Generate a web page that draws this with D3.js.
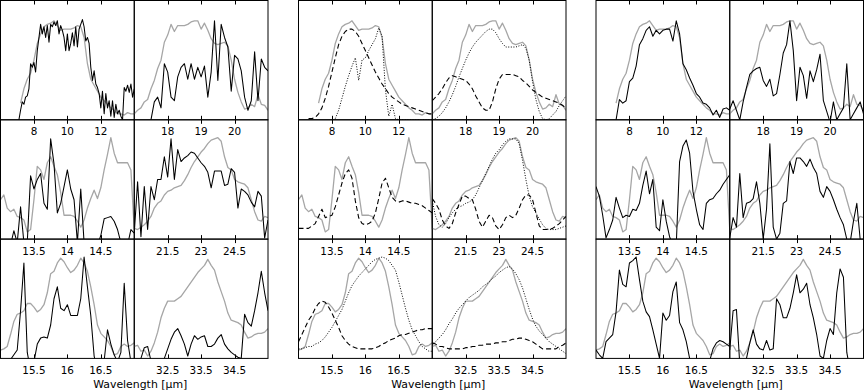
<!DOCTYPE html>
<html>
<head>
<meta charset="utf-8">
<script src="https://cdn.jsdelivr.net/npm/d3@7"></script>
<style>
  html, body { margin: 0; padding: 0; background: #fff; }
  svg { display: block; }
  text { font-family: "DejaVu Sans", sans-serif; font-size: 10.4px; fill: #000; }
  text.title { font-size: 10.9px; }
</style>
</head>
<body>
<svg id="chart" width="865" height="391"></svg>
<script>
;(function (window, document, d3) {

    'use strict';

    // panel order in each block: row1 left, row1 right, row2 left, row2 right, row3 left, row3 right
    var xDomains = [[6, 14], [17, 21], [13, 15], [20, 26], [15, 17], [31.5, 35.5]];
    var tickValues = [[8, 10, 12], [18, 19, 20], [13.5, 14, 14.5], [21.5, 23, 24.5], [15.5, 16, 16.5], [32.5, 33.5, 34.5]];
    var tickLabels = [['8', '10', '12'], ['18', '19', '20'], ['13.5', '14', '14.5'], ['21.5', '23', '24.5'], ['15.5', '16', '16.5'], ['32.5', '33.5', '34.5']];
    var axisTitle = 'Wavelength [\u03bcm]';

    // observed spectrum (grey), same in the three blocks; samples evenly spread over each panel
    var obs_r1a = [null, null, null, null, null, null, 14, 26, 34, 39, 50, 64, 72, 78, 80, 81, 83, 79, 75, 76, 76, 76, 77, 79, 78, 69, 47, 34, 29, 24, 19, 16, 13, 10, 8, 5, 5, 4, 6, 5, 5];
    var obs_r1b = [5, 8, 10, 15, 17, 26, 33, 43, 50, 65, 71, 80, 74, 79, 79, 79, 80, 82, 83, 83, 76, 81, 75, 68, 64, 63, 64, 65, 62, 50, 34, 23, 15, 9, 10, 13, 11, 21, 13, 12, 8];
    var obs_r2a = [33, 37, 26, 23, 25, 19, 18, 16, 6, 8, 33, 61, 58, 50, 64, 69, 61, 54, 39, 20, 20, 20, 19, 15, 10, 16, 26, 34, 41, 34, 43, 58, 71, 85, 72, 64, 64, 64, 64, 58, 8];
    var obs_r2b = [9, 8, 10, 12, 15, 19, 26, 30, 32, 37, 40, 41, 43, 44, 45, 49, 54, 60, 65, 69, 73, 76, 80, 83, 84, 85, 82, 69, 60, 58, 50, 48, 47, 46, 43, 33, 23, 16, 15, 19, 18];
    var obs_r3a = [7, 8, 10, 20, 31, 37, 38, 40, 46, 46, 43, 39, 41, 45, 55, 71, 73, 80, 84, 81, 76, 72, 74, 78, 84, 80, 73, 60, 45, 28, 21, 18, 15, 10, 3, 4, 10, 12, 10, 11, 13];
    var obs_r3b = [10, 11, 6, 7, 2, 6, 13, 22, 34, 42, 48, 48, 48, 50, 52, 56, 60, 64, 68, 72, 75, 78, 83, 78, 74, 64, 56, 48, 38, 32, 31, 30, 28, 22, 17, 18, 20, 21, 21, 22, 25];

    // block A, solid black
    var modA_r1a = [null, null, null, null, null, null, null, null, null, null, null,
        0, 8, 15, 13, 19, 20, 26, 47, 44, 48, 40, 58, 69, 80, 72, 78, 69, 79, 65, 80,
        78, 82, 79, 83, 72, 79, 75, 69, 58, 72, 58, 64, 73, 62, 78, 61, 76, 80, 84, 78,
        66, 69, 64, 44, 33, 41, 30, 27, 22, 10, 24, 5, 22, 10, 16, 3, 16, 2, 13, 5,
        8, 3, 0, 27, 24, 29, 23, 30, 19, 26];
    var modA_r1b = [null, null, null, null, null, 0, 15, 19, 10, 47, 40, 19, 16, 36, 44, 47, 34, 47, 34, 44, 36, 45, 19, 40, 83, 33, 80, 69, 61, 24, 54, 51, 41, 19, 8, 16, 57, 16, 51, 44, 41];
    var modA_r2a = [null, null, null, -5, 7, -3, 27, -3, -3, 53, 42, 50, 55, 30, 25, 84, 63, 22, 30, 44, 58, 42, 33, -3, 42, -3, -10, -10, -10, -5, 3, 17, 18, 19, 15, 8, -3, -10, -5, 8, 5];
    var modA_r2b = [5, 48, 2, 44, 8, 44, 33, 50, 50, 69, 52, 84, 50, 75, 65, 68, 70, 73, 72, 68, 64, 61, 56, 43, 57, 57, 57, 45, 46, 59, 56, 26, 42, 40, 37, 31, 27, 40, 36, 1, 16];
    var modA_r3a = [0, -3, -3, -1, 3, 7, 40, 80, 5, -10, -3, 12, 17, 18, 17, 28, 50, 60, 42, 40, 45, 36, 36, 36, 50, 85, 60, 36, 2, -10, -10, -2, 24, 12, 3, -3, 5, 63, 15, -3, -5];
    var modA_r3b = [-5, -5, 0, 9, 10, -2, -10, -10, -5, 0, 8, 16, 22, 25, 19, 12, 2, 12, 19, 16, 18, 19, 10, 10, 12, 17, 20, 12, 8, 5, 3, 1, 0, 37, 30, 27, 40, 55, 73, 55, 40];

    // block B, dashed and dotted components
    var dashB_r1a = [null, null, null, 1, 1, 2, 5, 10, 18, 28, 40, 52, 63, 70, 74, 76, 76, 74, 70, 64, 58, 52, 46, 40, 35, 30, 26, 22, 19, 17, 15, 13, 12, 11, 10, 9, 8, 7, 6, 5, 5];
    var dotB_r1a = [null, null, null, null, null, null, null, null, null, null, null, 1, 8, 18, 28, 37, 45, 52, 33, 50, 52, 58, 63, 68, 77, 70, 25, 3, 13, 1, 0, 0, 0, 0, 0, 0, 0, 0, 0, 0, 0];
    var dashB_r1b = [16, 19, 22, 26, 31, 35, 37, 36, 35, 34, 33, 30, 26, 20, 15, 10, 8, 8, 15, 26, 34, 38, 38, 38, 38, 37, 36, 33, 31, 28, 25, 23, 21, 19, 18, 17, 16, 15, 14, 12, 10];
    var dotB_r1b = [0, 1, 3, 6, 10, 15, 21, 28, 36, 43, 50, 56, 61, 65, 68, 71, 74, 76, 76, 73, 68, 64, 61, 61, 61, 61, 62, 63, 60, 50, 32, 17, 7, 1, 0, 1, 4, 7, 12, 16, 20];
    var dashB_r2a = [9, 9, 9, 9, 11, 13, 19, 25, 18, 19, 20, 27, 37, 47, 55, 58, 51, 32, 18, 13, 12, 13, 15, 22, 34, 47, 51, 43, 35, 32, 31, 32, 32, 31, 30, 30, 29, 28, 26, 24, 22];
    var dashB_r2b = [34, 30, 25, 16, 11, 9, 13, 22, 29, 36, 36, 34, 33, 25, 15, 10, 15, 20, 18, 11, 8, 12, 18, 20, 18, 20, 26, 33, 37, 37, 33, 22, 11, 8, 8, 8, 9, 11, 13, 16, 19];
    var dotB_r2b = [32, 19, 12, 10, 13, 18, 22, 25, 27, 28, 30, 31, 33, 37, 43, 49, 55, 61, 67, 72, 75, 79, 82, 84, 84, 84, 80, 66, 50, 36, 27, 22, 17, 12, 9, 8, 8, 8, 9, 10, 11];
    var dashB_r3a = [14, 20, 26, 32, 36, 42, 46, 48, 47, 43, 38, 32, 26, 19, 15, 12, 10, 9, 8, 8, 8, 8, 8, 9, 10, 12, 13, 15, 16, 17, 19, 20, 20, 21, 22, 23, 24, 24, 25, 25, 25];
    var dotB_r3a = [8, 8, 9, 10, 10, 12, 13, 15, 18, 22, 26, 31, 36, 41, 48, 55, 61, 65, 69, 72, 75, 78, 81, 83, 84, 85, 84, 82, 78, 74, 64, 53, 42, 32, 24, 19, 14, 10, 8, 6, 6];
    var dashB_r3b = [13, 12, 10, 10, 9, 8, 8, 8, 8, 8, 9, 9, 10, 10, 11, 11, 12, 12, 12, 13, 13, 14, 14, 15, 16, 16, 17, 17, 16, 15, 14, 12, 10, 8, 8, 8, 8, 8, 10, 11, 13];
    var dotB_r3b = [11, 14, 17, 20, 24, 29, 33, 38, 42, 45, 48, 51, 53, 55, 57, 60, 62, 64, 67, 69, 72, 74, 76, 77, 75, 71, 66, 59, 50, 41, 33, 27, 23, 20, 17, 14, 12, 10, 8, 6, 4];

    // block C, solid black
    var modC_r1a = [null, null, null, null, null, null, 0, 17, 14, 16, 32, 35, 45, 63, 68, 75, 78, 70, 75, 72, 75, 76, 76, 66, 83, 72, 47, 42, 35, 29, 22, 19, 14, 13, 10, 4, 8, 2, 9, 10, 8];
    var modC_r1b = [9, 16, 8, 0, 15, 27, 38, 41, 43, 44, 33, 28, 34, 20, 22, 38, 56, 63, 83, 58, 16, 44, 37, 18, 41, 32, 42, 55, 16, 7, -2, 15, 0, 5, 10, 47, 0, 5, 10, 15, 5];
    var modC_r2a = [44, 36, 20, 1, 8, 16, 35, 26, 18, 20, 19, 25, 24, 30, 45, 57, 38, 50, 10, 7, 33, 15, 2, -5, -5, 65, 78, 83, 72, 40, 25, 12, 8, 30, 33, 34, 38, 41, 46, 50, 54];
    var modC_r2b = [1, 18, 10, 55, 18, 30, 31, 34, 48, 30, 0, 25, 80, 10, 0, 5, 30, 32, 65, 55, 68, 68, 65, 61, 67, 60, 55, 40, 35, 44, 40, 33, 25, 18, 12, 0, -3, 15, 30, 0, -3];
    var modC_r3a = [7, 3, 0, 14, 17, 20, 39, 74, 62, 60, 80, 82, 85, 66, 48, 39, 35, 24, 12, 0, 38, 32, 36, 56, 64, 30, 24, 14, 0, -5, -8, -10, -10, -8, -2, 8, 13, 15, 14, 12, 10];
    var modC_r3b = [7, 40, 41, -5, -5, 0, 13, 24, 12, 8, 7, 15, 7, 8, 50, 45, 34, 34, 42, 55, 70, 55, 58, 63, 45, 34, 20, 2, 0, 15, 25, 20, 55, 75, 68, 5, -10, -10, -10, -10, -10];

    var observed = [obs_r1a, obs_r1b, obs_r2a, obs_r2b, obs_r3a, obs_r3b];

    var blocks = [
        { left: 0.5, models: [
            [[modA_r1a, 'solid']], [[modA_r1b, 'solid']], [[modA_r2a, 'solid']],
            [[modA_r2b, 'solid']], [[modA_r3a, 'solid']], [[modA_r3b, 'solid']]] },
        { left: 298.5, models: [
            [[dashB_r1a, 'dash'], [dotB_r1a, 'dot']], [[dashB_r1b, 'dash'], [dotB_r1b, 'dot']],
            [[dashB_r2a, 'dash']], [[dashB_r2b, 'dash'], [dotB_r2b, 'dot']],
            [[dashB_r3a, 'dash'], [dotB_r3a, 'dot']], [[dashB_r3b, 'dash'], [dotB_r3b, 'dot']]] },
        { left: 596, models: [
            [[modC_r1a, 'solid']], [[modC_r1b, 'solid']], [[modC_r2a, 'solid']],
            [[modC_r2b, 'solid']], [[modC_r3a, 'solid']], [[modC_r3b, 'solid']]] }
    ];

    var panelW = 133.75,
        panelH = 119.3,
        top = 0.5,
        tickLen = 4;

    var styles = {
        obs:   { stroke: '#a6a6a6', width: 1.3, dash: null },
        solid: { stroke: '#000', width: 1.05, dash: null },
        dash:  { stroke: '#000', width: 1.1, dash: '5,3' },
        dot:   { stroke: '#000', width: 1, dash: '1,1.6' }
    };

    var svg = d3.select('#chart');
    var clipId = 0;

    function drawCurve(g, values, domain, x, y, style) {
        var n = values.length;
        var pts = values.map(function(v, i) {
            return [domain[0] + i * (domain[1] - domain[0]) / (n - 1), v];
        });
        var line = d3.line()
            .defined(function(d) { return d[1] !== null; })
            .x(function(d) { return x(d[0]); })
            .y(function(d) { return y(d[1]); });
        var s = styles[style];
        g.append('path')
            .datum(pts)
            .attr('d', line)
            .attr('fill', 'none')
            .attr('stroke', s.stroke)
            .attr('stroke-width', s.width)
            .attr('stroke-dasharray', s.dash)
            .attr('stroke-linejoin', 'round');
    }

    blocks.forEach(function(block) {
        var bg = svg.append('g');

        for (var p = 0; p < 6; p++) {
            var row = Math.floor(p / 2),
                col = p % 2,
                x0 = block.left + col * panelW,
                y0 = top + row * panelH;

            var x = d3.scaleLinear().domain(xDomains[p]).range([x0, x0 + panelW]);
            var y = d3.scaleLinear().domain([0, 100]).range([y0 + panelH, y0]);

            var id = 'clip' + (clipId++);
            bg.append('clipPath').attr('id', id)
                .append('rect')
                .attr('x', x0).attr('y', y0)
                .attr('width', panelW).attr('height', panelH);

            var pg = bg.append('g').attr('clip-path', 'url(#' + id + ')');
            drawCurve(pg, observed[p], xDomains[p], x, y, 'obs');
            block.models[p].forEach(function(m) {
                drawCurve(pg, m[0], xDomains[p], x, y, m[1]);
            });

            bg.append('rect')
                .attr('x', x0).attr('y', y0)
                .attr('width', panelW).attr('height', panelH)
                .attr('fill', 'none')
                .attr('stroke', '#000')
                .attr('stroke-width', 1);

            tickValues[p].forEach(function(t, k) {
                var tx = Math.round(x(t)) + 0.5;
                bg.append('line')
                    .attr('x1', tx).attr('x2', tx)
                    .attr('y1', y0).attr('y2', y0 + tickLen)
                    .attr('stroke', '#000');
                bg.append('line')
                    .attr('x1', tx).attr('x2', tx)
                    .attr('y1', y0 + panelH - tickLen).attr('y2', y0 + panelH)
                    .attr('stroke', '#000');
                bg.append('text')
                    .attr('x', x(t))
                    .attr('y', y0 + panelH + 15.5)
                    .attr('text-anchor', 'middle')
                    .text(tickLabels[p][k]);
            });
        }

        bg.append('text')
            .attr('class', 'title')
            .attr('x', block.left + panelW + 6)
            .attr('y', 388)
            .attr('text-anchor', 'middle')
            .text(axisTitle);
    });

}(window, document, window.d3));
</script>
</body>
</html>
